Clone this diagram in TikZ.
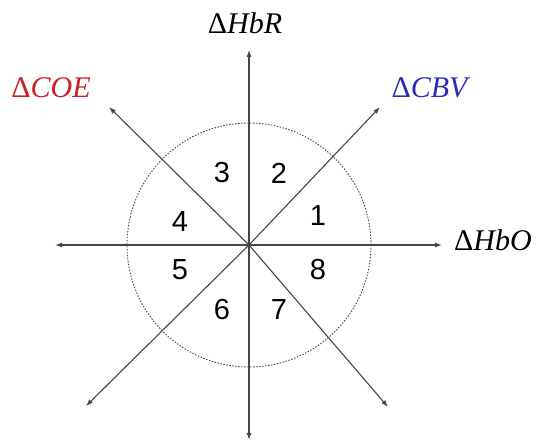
\documentclass[tikz,border=0pt]{standalone}
\usepackage{fontspec}
\setmainfont{Liberation Serif}
\newfontfamily\digitfont{Liberation Sans}
\usetikzlibrary{arrows.meta}
\definecolor{axisgray}{RGB}{70,70,70}
\definecolor{labred}{RGB}{205,30,35}
\definecolor{labblue}{RGB}{40,45,185}
\tikzset{
  axisray/.style={draw=axisgray, line width=1.1pt, -{Latex[length=7pt,width=5pt]}},
  axislabel/.style={font=\fontsize{30}{30}\selectfont, inner sep=0pt},
  sector/.style={font=\digitfont\fontsize{29}{29}\selectfont, inner sep=0pt},
  guide/.style={draw=axisgray, line width=0.9pt, dash pattern=on 1.5pt off 1.5pt}
}
\begin{document}
\begin{tikzpicture}[x=1pt,y=-1pt]
\useasboundingbox (0,0) rectangle (536,443);
\coordinate (O) at (249,245);
\coordinate (N) at (249,50);
\coordinate (S) at (249,440);
\coordinate (W) at (55,245);
\coordinate (E) at (442,245);
\coordinate (NE) at (380,107);
\coordinate (SW) at (86,406);
\coordinate (NW) at (109,107);
\coordinate (SE) at (388,407);
\draw[guide] (O) circle[radius=122];
\foreach \t in {N,S,W,E,NE,SW,NW,SE} \draw[axisray] (O) -- (\t);
\fill[axisgray] (O) circle[radius=1.3];
\node[axislabel] (hbr) at (245,23) {Δ\textit{HbR}};
\node[axislabel, text=labred] (coe) at (51,88) {Δ\textit{COE}};
\node[axislabel, text=labblue] (cbv) at (431,88) {Δ\textit{CBV}};
\node[axislabel] (hbo) at (493,240) {Δ\textit{HbO}};
\node[sector] (s1) at (318,216) {1};
\node[sector] (s2) at (279,173) {2};
\node[sector] (s3) at (222,173) {3};
\node[sector] (s4) at (180,222) {4};
\node[sector] (s5) at (180,270) {5};
\node[sector] (s6) at (222,310) {6};
\node[sector] (s7) at (279,310) {7};
\node[sector] (s8) at (318,270) {8};
\end{tikzpicture}
\end{document}
